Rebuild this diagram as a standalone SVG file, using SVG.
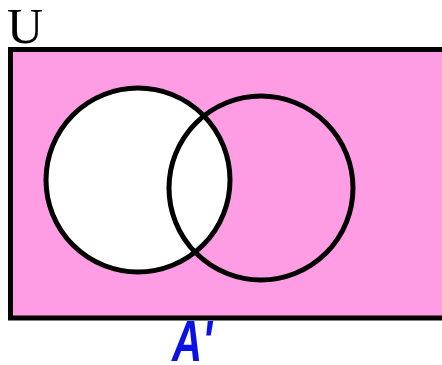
<svg xmlns="http://www.w3.org/2000/svg" width="442" height="365" viewBox="0 0 442 365">
  <style>
    .outline { stroke: #000; stroke-width: 5; }
    .label-u { font-family: "Liberation Serif", "Times New Roman", serif; font-size: 50px; fill: #000; }
    .label-a { font-family: "Liberation Sans", Arial, sans-serif; font-weight: bold; font-style: italic; font-size: 58px; fill: #0a10e8; }
  </style>
  <rect width="442" height="365" fill="#fff"/>
  <g id="universe">
    <rect class="outline" x="10.5" y="49.5" width="434" height="268.5" fill="#fe9de3"/>
    <text class="label-u" x="7" y="43">U</text>
  </g>
  <g id="setA">
    <circle class="outline" cx="138" cy="180" r="92" fill="#fff"/>
  </g>
  <g id="setB">
    <circle class="outline" cx="261" cy="188" r="92" fill="none"/>
  </g>
  <g id="connectors"/>
  <g id="caption">
    <text class="label-a" transform="translate(172,361) scale(0.72,1)" x="0" y="0">A'</text>
  </g>
</svg>
